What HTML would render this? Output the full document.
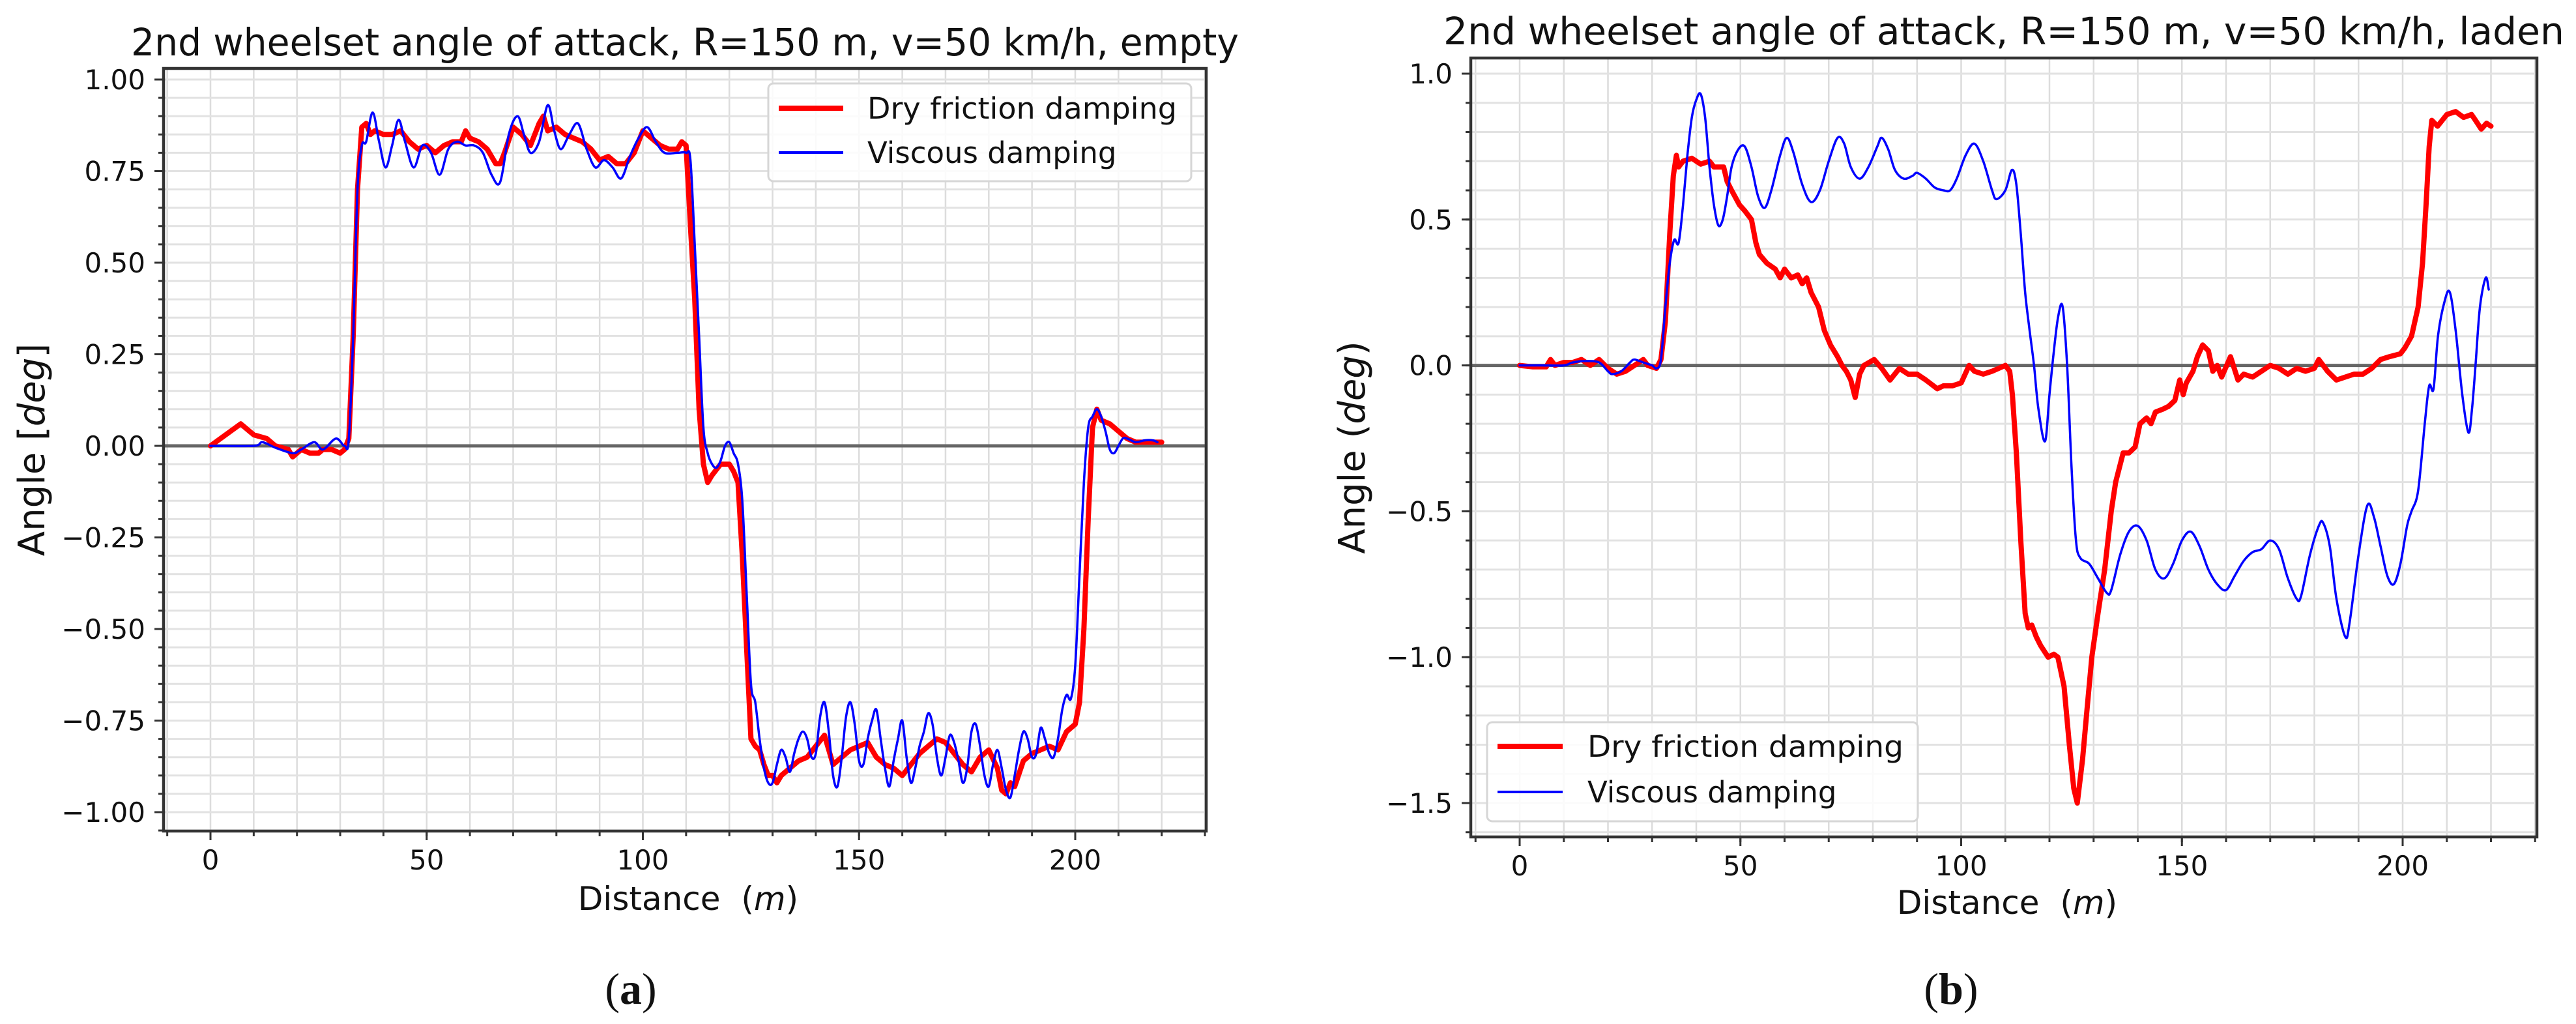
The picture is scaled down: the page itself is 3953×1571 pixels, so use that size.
<!DOCTYPE html>
<html><head><meta charset="utf-8">
<style>
html,body{margin:0;padding:0;background:#fff;}
svg{display:block;}
text{font-family:"DejaVu Sans","Liberation Sans",sans-serif;fill:#111;}
</style></head>
<body>
<svg id="fig" width="3953" height="1571" viewBox="0 0 3953 1571" xmlns="http://www.w3.org/2000/svg">
</svg>
<script>
// ---------- data (distance m, angle deg) ----------
const dryEmpty = [[0,0],[7,0.06],[10,0.03],[13,0.02],[15,0],[18,-0.01],[19,-0.03],[21,-0.01],[23,-0.02],[25,-0.02],[26,-0.01],[28,-0.01],[30,-0.02],[31,-0.01],[32,0.02],[33,0.3],[34,0.7],[35,0.87],[36,0.88],[37,0.85],[38,0.86],[40,0.85],[42,0.85],[44,0.86],[46,0.83],[48,0.81],[50,0.82],[52,0.8],[54,0.82],[56,0.83],[58,0.83],[59,0.86],[60,0.84],[62,0.83],[64,0.81],[66,0.77],[67,0.77],[68,0.8],[70,0.87],[72,0.85],[74,0.82],[76,0.88],[77,0.9],[78,0.86],[80,0.87],[82,0.85],[84,0.84],[86,0.83],[88,0.81],[90,0.78],[92,0.79],[94,0.77],[96,0.77],[98,0.8],[100,0.86],[102,0.84],[104,0.82],[106,0.81],[108,0.81],[109,0.83],[110,0.82],[111,0.6],[112,0.4],[113,0.1],[114,-0.05],[115,-0.1],[116,-0.08],[118,-0.05],[120,-0.05],[121,-0.07],[122,-0.1],[123,-0.3],[124,-0.55],[125,-0.8],[126,-0.82],[127,-0.83],[128,-0.87],[129,-0.9],[130,-0.9],[131,-0.92],[132,-0.9],[134,-0.88],[136,-0.86],[138,-0.85],[140,-0.82],[142,-0.79],[144,-0.87],[146,-0.85],[148,-0.83],[150,-0.82],[152,-0.81],[154,-0.85],[156,-0.87],[158,-0.88],[160,-0.9],[162,-0.87],[164,-0.84],[166,-0.82],[168,-0.8],[170,-0.81],[172,-0.84],[174,-0.87],[176,-0.89],[178,-0.85],[180,-0.83],[182,-0.88],[183,-0.94],[184,-0.95],[185,-0.92],[186,-0.93],[188,-0.86],[190,-0.84],[192,-0.83],[194,-0.82],[196,-0.83],[198,-0.78],[200,-0.76],[201,-0.7],[202,-0.5],[203,-0.2],[204,0.05],[205,0.1],[206,0.07],[208,0.06],[210,0.04],[212,0.02],[214,0.01],[216,0.01],[218,0.01],[220,0.01]];
const viscEmpty = [[0,0],[10,0],[12,0.01],[15,-0.005],[19,-0.02],[21,-0.01],[24,0.01],[26,-0.01],[29,0.02],[31,0],[32,0.02],[33,0.3],[34,0.7],[35,0.82],[36,0.83],[37.5,0.91],[39,0.83],[40.5,0.76],[42,0.82],[43.5,0.89],[45,0.83],[47,0.76],[49,0.82],[51,0.8],[53,0.74],[55,0.81],[57,0.83],[59,0.82],[61,0.82],[63,0.8],[65,0.74],[67,0.72],[69,0.85],[71,0.9],[72.5,0.85],[74,0.8],[76,0.83],[78,0.93],[79.5,0.86],[81,0.81],[83,0.85],[85,0.88],[87,0.81],[89,0.76],[91,0.78],[93,0.76],[95,0.73],[97,0.79],[99,0.84],[101,0.87],[103,0.83],[105,0.8],[108,0.8],[110,0.8],[111,0.78],[112,0.55],[113,0.3],[114,0.05],[115,-0.02],[116,-0.05],[117,-0.06],[118,-0.04],[119,0],[120,0.01],[121,-0.02],[122,-0.05],[123,-0.15],[124,-0.4],[125,-0.65],[126,-0.7],[127,-0.8],[128,-0.88],[129,-0.92],[130,-0.92],[131,-0.87],[132,-0.83],[133,-0.85],[134,-0.89],[135,-0.84],[136,-0.8],[137,-0.78],[138,-0.8],[139,-0.85],[140,-0.84],[141,-0.74],[142,-0.7],[143,-0.78],[144,-0.9],[145,-0.93],[146,-0.85],[147,-0.74],[148,-0.7],[149,-0.76],[150,-0.86],[151,-0.87],[152,-0.8],[153,-0.75],[154,-0.72],[155,-0.8],[156,-0.88],[157,-0.93],[158,-0.86],[159,-0.8],[160,-0.75],[161,-0.85],[162,-0.92],[163,-0.88],[164,-0.82],[165,-0.78],[166,-0.73],[167,-0.76],[168,-0.85],[169,-0.9],[170,-0.85],[171,-0.79],[172,-0.81],[173,-0.86],[174,-0.92],[175,-0.88],[176,-0.78],[177,-0.76],[178,-0.82],[179,-0.9],[180,-0.93],[181,-0.87],[182,-0.83],[183,-0.88],[184,-0.94],[185,-0.96],[186,-0.9],[187,-0.83],[188,-0.78],[189,-0.8],[190,-0.85],[191,-0.84],[192,-0.77],[193,-0.8],[194,-0.84],[195,-0.85],[196,-0.8],[197,-0.72],[198,-0.68],[199,-0.69],[200,-0.6],[201,-0.35],[202,-0.1],[203,0.05],[204,0.08],[205,0.1],[206,0.08],[207,0.04],[208,-0.01],[209,-0.02],[210,0],[211,0.02],[212,0.02],[214,0.01],[216,0.015],[218,0.015],[219,0.01]];
const dryLaden = [[0,0],[3,-0.005],[6,-0.005],[7,0.02],[8,0],[10,0.01],[12,0.01],[14,0.02],[16,0],[18,0.02],[20,-0.01],[21,-0.02],[22,-0.03],[24,-0.02],[26,0],[28,0.02],[29,0],[31,-0.01],[32,0.02],[33,0.15],[34,0.45],[34.8,0.65],[35.5,0.72],[36,0.68],[37,0.7],[39,0.71],[41,0.69],[43,0.7],[44,0.68],[46.2,0.68],[47,0.63],[48,0.6],[49.8,0.55],[51,0.53],[52.5,0.5],[53.5,0.42],[54.3,0.38],[56,0.35],[57.9,0.33],[59,0.3],[60,0.33],[61.5,0.3],[63,0.31],[64,0.28],[65,0.3],[66,0.25],[67.7,0.2],[69,0.12],[70.4,0.07],[72,0.03],[73,0],[74,-0.02],[75,-0.05],[76,-0.11],[77,-0.03],[78,0],[80.3,0.02],[82,-0.01],[83.9,-0.05],[86,-0.01],[88,-0.03],[90,-0.03],[92,-0.05],[94.6,-0.08],[96,-0.07],[98,-0.07],[100,-0.06],[101.8,0],[103,-0.02],[105,-0.03],[107,-0.02],[108.5,-0.01],[110,0],[111,-0.02],[111.6,-0.1],[112.5,-0.3],[113.5,-0.6],[114.5,-0.85],[115.2,-0.9],[116,-0.89],[117,-0.93],[118,-0.96],[119.7,-1.0],[121,-0.99],[121.9,-1.0],[123.3,-1.1],[124.5,-1.3],[125.5,-1.45],[126.3,-1.5],[127.5,-1.35],[128.5,-1.18],[129.6,-1.0],[131,-0.85],[132.5,-0.7],[134,-0.5],[135,-0.4],[136.7,-0.3],[138,-0.3],[139.4,-0.28],[140.5,-0.2],[142,-0.18],[143,-0.2],[144,-0.16],[145.7,-0.15],[147,-0.14],[148.4,-0.12],[149.5,-0.05],[150.3,-0.1],[151,-0.06],[152.5,-0.02],[153.5,0.03],[154.7,0.07],[156,0.05],[157,-0.02],[158,0],[159,-0.04],[161,0.03],[162.7,-0.05],[164,-0.03],[166,-0.04],[168,-0.02],[170,0],[172,-0.01],[174,-0.03],[176,-0.01],[178,-0.02],[180,-0.01],[181,0.02],[183,-0.02],[185,-0.05],[187,-0.04],[189,-0.03],[191,-0.03],[193,-0.01],[195,0.02],[197,0.03],[199.5,0.04],[200.5,0.06],[202,0.1],[203.5,0.2],[204.5,0.35],[205.3,0.55],[206,0.75],[206.6,0.84],[207.9,0.82],[210,0.86],[212,0.87],[213.8,0.85],[215.6,0.86],[216.5,0.84],[217.8,0.81],[219,0.83],[220,0.82]];
const viscLaden = [[0,0],[5,0],[10,0],[12,0.01],[15,0.015],[18,0.01],[20,-0.02],[21,-0.03],[23,-0.02],[25,0.01],[26,0.02],[28,0.01],[30,0],[31,-0.01],[32,0.02],[33,0.2],[34,0.35],[35,0.43],[36,0.42],[37,0.55],[38,0.72],[39,0.85],[40,0.91],[41,0.93],[42,0.85],[43,0.68],[44,0.55],[45,0.48],[46,0.5],[47,0.58],[48,0.68],[49.5,0.74],[51,0.75],[52.5,0.68],[54,0.58],[55.5,0.54],[57,0.6],[59,0.72],[60.5,0.78],[62,0.73],[64,0.62],[66,0.56],[68,0.6],[70,0.7],[72,0.78],[73.5,0.76],[75,0.68],[77,0.64],[79,0.68],[81,0.75],[82,0.78],[83.5,0.74],[85,0.67],[87,0.64],[89,0.65],[90,0.66],[92,0.64],[94,0.61],[96,0.6],[97.5,0.6],[99,0.64],[101,0.72],[103,0.76],[105,0.7],[107,0.6],[108,0.57],[110,0.6],[111.5,0.67],[112.5,0.62],[113.5,0.45],[114.5,0.25],[115.5,0.12],[116.5,0],[117.5,-0.15],[119,-0.26],[120,-0.1],[121,0.05],[122,0.17],[123,0.2],[124,0],[125,-0.35],[126,-0.6],[127,-0.66],[129,-0.68],[131,-0.73],[133,-0.78],[134,-0.77],[136,-0.65],[138,-0.57],[140,-0.55],[142,-0.6],[144,-0.7],[146,-0.73],[148,-0.68],[150,-0.6],[152,-0.57],[154,-0.62],[156,-0.7],[158,-0.75],[160,-0.77],[162,-0.72],[164,-0.67],[166,-0.64],[168,-0.63],[170,-0.6],[172,-0.63],[174,-0.73],[176,-0.8],[177,-0.79],[179,-0.65],[181,-0.55],[182,-0.54],[183.5,-0.62],[185,-0.8],[187,-0.93],[188,-0.88],[190,-0.65],[192,-0.48],[193.5,-0.52],[195,-0.62],[196.5,-0.72],[198,-0.75],[199.5,-0.68],[201,-0.55],[202,-0.5],[203.5,-0.43],[205,-0.2],[206,-0.07],[207,-0.08],[208,0.1],[209.5,0.22],[210.7,0.25],[212,0.12],[213.5,-0.1],[214.9,-0.23],[215.7,-0.15],[216.5,0],[217.5,0.2],[218.8,0.3],[219.5,0.26]];
const xTicks = [0,50,100,150,200];
const yTicksA = [-1.0,-0.75,-0.5,-0.25,0,0.25,0.5,0.75,1.0];
const yTickLabelsA = ["\u22121.00","\u22120.75","\u22120.50","\u22120.25","0.00","0.25","0.50","0.75","1.00"];
const yTicksB = [-1.5,-1.0,-0.5,0,0.5,1.0];
const yTickLabelsB = ["\u22121.5","\u22121.0","\u22120.5","0.0","0.5","1.0"];
const legendLabels = ["Dry friction damping","Viscous damping"];

const NS="http://www.w3.org/2000/svg";
const svg=document.getElementById('fig');
function mk(tag,attrs,parent){const e=document.createElementNS(NS,tag);for(const k in attrs)e.setAttribute(k,attrs[k]);(parent||svg).appendChild(e);return e;}

function smoothPath(pts){
  let d='M'+pts[0][0].toFixed(1)+','+pts[0][1].toFixed(1);
  for(let i=0;i<pts.length-1;i++){
    const p0=pts[Math.max(0,i-1)],p1=pts[i],p2=pts[i+1],p3=pts[Math.min(pts.length-1,i+2)];
    const c1x=p1[0]+(p2[0]-p0[0])/6,c1y=p1[1]+(p2[1]-p0[1])/6;
    const c2x=p2[0]-(p3[0]-p1[0])/6,c2y=p2[1]-(p3[1]-p1[1])/6;
    d+=' C'+c1x.toFixed(1)+','+c1y.toFixed(1)+' '+c2x.toFixed(1)+','+c2y.toFixed(1)+' '+p2[0].toFixed(1)+','+p2[1].toFixed(1);
  }
  return d;
}

function chart(cfg){
  const g=mk('g',{});
  
  
  const sx=v=>cfg.x0px+(v)*cfg.xs;
  const sy=v=>cfg.y0px-(v)*cfg.ys;
  const L=cfg.L,R=cfg.R,T=cfg.T,B=cfg.B;
  for(let v=-10;v<=230;v+=10){const X=sx(v);if(X<L||X>R)continue;
    mk('line',{x1:X,x2:X,y1:T,y2:B,stroke:'#dcdcdc','stroke-width':2.5},g);}
  for(let i=Math.ceil(cfg.ymin/cfg.ymin_step);i*cfg.ymin_step<=cfg.ymax+1e-9;i++){const Y=sy(i*cfg.ymin_step);if(Y<T||Y>B)continue;
    mk('line',{x1:L,x2:R,y1:Y,y2:Y,stroke:'#e2e2e2','stroke-width':3},g);}
  const z=mk('line',{x1:L,x2:R,y1:sy(0),y2:sy(0),stroke:'#666','stroke-width':5},g);
  
  
  function series(data,color,w,name,smooth){
    const pts=data.map(d=>[sx(d[0]),sy(d[1])]);
    let p;
    if(smooth){p=mk('path',{d:smoothPath(pts),fill:'none',stroke:color,'stroke-width':w,'stroke-linejoin':'round','stroke-linecap':'round'},g);}
    else{p=mk('polyline',{points:pts.map(q=>q[0].toFixed(1)+','+q[1].toFixed(1)).join(' '),fill:'none',stroke:color,'stroke-width':w,'stroke-linejoin':'round','stroke-linecap':'round'},g);}
    
    
  }
  series(cfg.dry,'#ff0000',8,'dry-friction-line',false);
  series(cfg.visc,'#0000ff',3.5,'viscous-line',true);
  const sp=mk('rect',{x:L,y:T,width:R-L,height:B-T,fill:'none',stroke:'#333','stroke-width':4.5},g);
  
  
  for(let v=-10;v<=230;v+=10){const X=sx(v);if(X<L-1||X>R+1)continue;
    mk('line',{x1:X,x2:X,y1:B,y2:B+8,stroke:'#333','stroke-width':3},g);}
  xTicks.forEach(v=>{const X=sx(v);
    mk('line',{x1:X,x2:X,y1:B,y2:B+14,stroke:'#333','stroke-width':3},g);
    const t=mk('text',{x:X,y:cfg.xlabY,'text-anchor':'middle','font-size':42},g);t.textContent=v;
    
    });
  for(let i=Math.ceil(cfg.ymin/cfg.ymin_step);i*cfg.ymin_step<=cfg.ymax+1e-9;i++){const Y=sy(i*cfg.ymin_step);if(Y<T-1||Y>B+1)continue;
    mk('line',{x1:L-8,x2:L,y1:Y,y2:Y,stroke:'#333','stroke-width':3},g);}
  cfg.yt.forEach((v,i)=>{const Y=sy(v);
    mk('line',{x1:L-14,x2:L,y1:Y,y2:Y,stroke:'#333','stroke-width':3},g);
    const t=mk('text',{x:cfg.ylabX,y:Y+15,'text-anchor':'end','font-size':42},g);t.textContent=cfg.ytl[i];
    
    });
  const ti=mk('text',{x:(L+R)/2,y:cfg.titleY,'text-anchor':'middle','font-size':58,textLength:cfg.titleW,lengthAdjust:'spacingAndGlyphs'},g);
  ti.textContent=cfg.title;
  
  
  const xl=mk('text',{x:(L+R)/2+5,y:cfg.xTitleY,'text-anchor':'middle','font-size':50},g);
  xl.innerHTML='Distance&#160;&#160;(<tspan font-style="italic">m</tspan>)';
  
  
  const yl=mk('text',{x:0,y:0,'text-anchor':'middle','font-size':56,transform:`translate(${cfg.yTitleX},${(T+B)/2}) rotate(-90)`},g);
  yl.innerHTML=cfg.yTitle;
  
  
  const lg=mk('g',{},g);
  
  
  const lb=cfg.leg;
  mk('rect',{x:lb.x,y:lb.y,width:lb.w,height:lb.h,rx:8,fill:'rgba(255,255,255,0.85)',stroke:'#d6d6d6','stroke-width':3},lg);
  const cols=['#ff0000','#0000ff'],ws=[8,4];
  legendLabels.forEach((s,i)=>{
    const ly=lb.ly[i];
    mk('line',{x1:lb.lx1,x2:lb.lx2,y1:ly,y2:ly,stroke:cols[i],'stroke-width':ws[i]},lg);
    const t=mk('text',{x:lb.tx,y:ly+16,'font-size':45},lg);t.textContent=s;
    if(i===0){t.setAttribute('textLength',lb.tw);t.setAttribute('lengthAdjust','spacingAndGlyphs');}
    
    
  });
  const pl=mk('text',{x:cfg.panelX,y:1540,'text-anchor':'middle','font-size':68,style:'font-family:"Liberation Serif",serif'},g);
  pl.innerHTML='(<tspan font-weight="bold">'+cfg.panel+'</tspan>)';
  
  
}

chart({name:'chart-empty',L:251,R:1851,T:105,B:1275,x0px:323,xs:6.635,y0px:684,ys:562,
  ymin:-1.05,ymax:1.03,ymin_step:0.05,yt:yTicksA,ytl:yTickLabelsA,dry:dryEmpty,visc:viscEmpty,
  xlabY:1334,ylabX:223,titleY:85,titleW:1700,title:'2nd wheelset angle of attack, R=150 m, v=50 km/h, empty',
  xTitleY:1396,yTitleX:68,yTitle:'Angle [<tspan font-style="italic">deg</tspan>]',
  leg:{x:1179,y:128,w:649,h:150,lx1:1195,lx2:1294,ly:[166,234],tx:1331,tw:475},panelX:968,panel:'a'});
chart({name:'chart-laden',L:2257,R:3893,T:89,B:1284,x0px:2332,xs:6.775,y0px:560.6,ys:447.6,
  ymin:-1.6,ymax:1.05,ymin_step:0.1,yt:yTicksB,ytl:yTickLabelsB,dry:dryLaden,visc:viscLaden,
  xlabY:1343,ylabX:2229,titleY:68,titleW:1720,title:'2nd wheelset angle of attack, R=150 m, v=50 km/h, laden',
  xTitleY:1402,yTitleX:2094,yTitle:'Angle (<tspan font-style="italic">deg</tspan>)',
  leg:{x:2282,y:1108,w:661,h:152,lx1:2298,lx2:2398,ly:[1145,1215],tx:2436,tw:485},panelX:2994,panel:'b'});
</script>
</body></html>
